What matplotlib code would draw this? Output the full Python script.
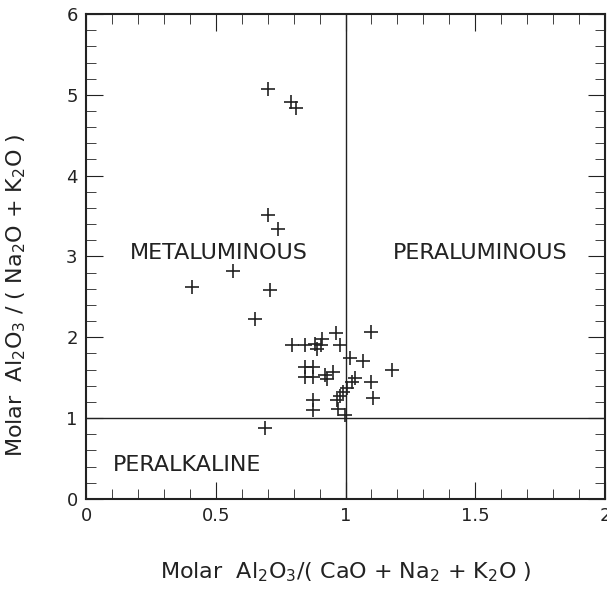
import matplotlib
matplotlib.use('Agg')
import matplotlib.pyplot as plt
from matplotlib.ticker import MultipleLocator, FuncFormatter

# molar ratios
acnk = [0.70, 0.79, 0.81, 0.70, 0.74, 0.565, 0.41, 0.71, 0.65,
        0.962, 1.097, 0.795, 0.844, 0.882, 0.908, 0.891, 0.905, 0.979,
        1.017, 1.069, 1.18, 0.844, 0.876, 0.844, 0.876, 0.921, 0.953,
        0.927, 1.036, 1.024, 1.098, 1.004, 0.99, 1.107, 0.979, 0.966,
        0.876, 0.876, 0.972, 0.998, 0.69]
ank = [5.07, 4.91, 4.84, 3.51, 3.34, 2.82, 2.62, 2.59, 2.23,
       2.05, 2.06, 1.90, 1.90, 1.92, 1.98, 1.86, 1.91, 1.90,
       1.74, 1.71, 1.60, 1.63, 1.63, 1.51, 1.51, 1.53, 1.57,
       1.48, 1.50, 1.45, 1.45, 1.37, 1.32, 1.25, 1.28, 1.22,
       1.22, 1.10, 1.11, 1.04, 0.88]

fields = ['METALUMINOUS', 'PERALUMINOUS', 'PERALKALINE']
field_x = [0.51, 1.52, 0.39]
field_y = [3.04, 3.04, 0.42]

ink = '#222222'

fig = plt.figure(figsize=(6.07, 5.91), dpi=100)
ax = fig.add_axes([0.1417, 0.1557, 0.855, 0.8206])

ax.plot(acnk, ank, '+', color=ink, markersize=10, markeredgewidth=1.2)
ax.axvline(1, color=ink, lw=1.0)
ax.axhline(1, color=ink, lw=1.0)

for name, x, y in zip(fields, field_x, field_y):
    ax.text(x, y, name, fontsize=16, ha='center', va='center', color=ink)

ax.set_xlim(0, 2)
ax.set_ylim(0, 6)
ax.xaxis.set_major_locator(MultipleLocator(0.5))
ax.xaxis.set_minor_locator(MultipleLocator(0.1))
ax.yaxis.set_major_locator(MultipleLocator(1))
ax.yaxis.set_minor_locator(MultipleLocator(0.2))
fmt = FuncFormatter(lambda v, p: '%g' % v)
ax.xaxis.set_major_formatter(fmt)
ax.yaxis.set_major_formatter(fmt)
ax.tick_params(which='both', direction='in', top=True, right=True,
               labelsize=13, colors=ink)
ax.tick_params(which='major', length=12, pad=6)
ax.tick_params(which='minor', length=7)
for s in ax.spines.values():
    s.set_linewidth(1.5)
    s.set_color(ink)

fig.text(0.57, 0.032, 'Molar  Al$_2$O$_3$/( CaO + Na$_2$ + K$_2$O )',
         fontsize=16, ha='center', va='center', color=ink)
fig.text(0.027, 0.50, 'Molar  Al$_2$O$_3$ / ( Na$_2$O + K$_2$O )',
         fontsize=16, ha='center', va='center', rotation=90, color=ink)

fig.savefig('out.png', dpi=100)
